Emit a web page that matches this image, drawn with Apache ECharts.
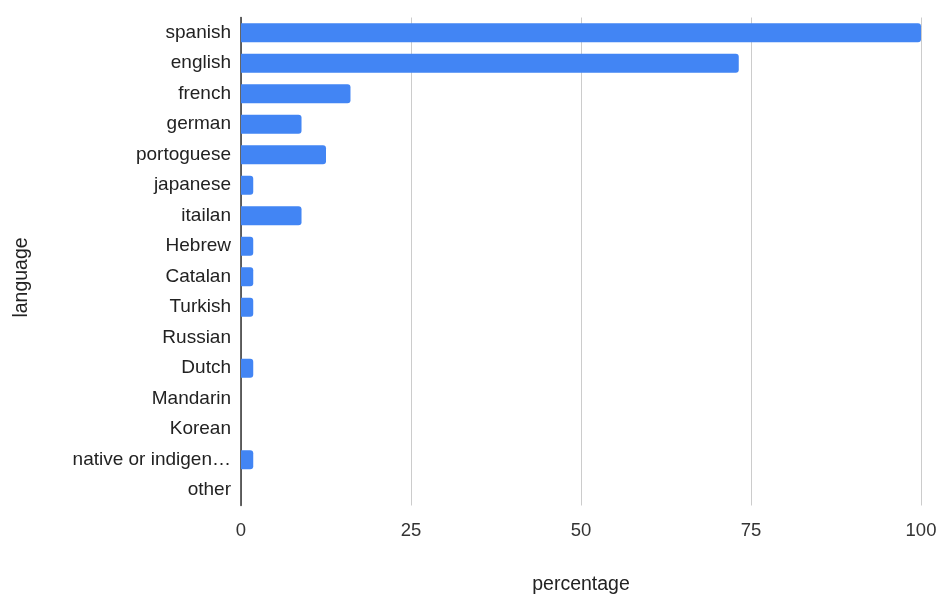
<!DOCTYPE html>
<html>
<head>
<meta charset="utf-8">
<script src="https://cdn.jsdelivr.net/npm/echarts@6/dist/echarts.min.js"></script>
<style>html,body{margin:0;padding:0;background:#fff;}#c{width:939px;height:594px;}</style>
</head>
<body>
<div id="c"></div>
<script>
const categories = ["spanish","english","french","german","portoguese","japanese","itailan","Hebrew","Catalan","Turkish","Russian","Dutch","Mandarin","Korean","native or indigen…","other"];
const percentage = [100, 73.2, 16.1, 8.9, 12.5, 1.8, 8.9, 1.8, 1.8, 1.8, 0, 1.8, 0, 0, 1.8, 0];
const xTicks = [0, 25, 50, 75, 100];

const chart = echarts.init(document.getElementById('c'));
chart.setOption({
  animation: false,
  textStyle: { fontFamily: 'Liberation Sans, Arial' },
  grid: { left: 241, right: 18, top: 17.5, bottom: 88.5, containLabel: false, outerBoundsMode: 'none' },
  xAxis: {
    type: 'value', min: xTicks[0], max: xTicks[xTicks.length-1], interval: 25,
    name: 'percentage', nameLocation: 'middle', nameGap: 69,
    nameTextStyle: { fontSize: 19.5, color: '#222' },
    axisLine: { show: false }, axisTick: { show: false },
    axisLabel: { fontSize: 18.5, color: '#333', margin: 16 },
    splitLine: { lineStyle: { color: '#cccccc', width: 1 } }
  },
  yAxis: {
    type: 'category', data: categories, inverse: true,
    name: 'language', nameLocation: 'middle', nameGap: 209,
    nameTextStyle: { fontSize: 19.5, color: '#222', padding: [0, 32, 0, 0] },
    axisLine: { show: true, lineStyle: { color: '#333', width: 1.5 } },
    axisTick: { show: false },
    axisLabel: { fontSize: 19, color: '#222', margin: 10, padding: [8, 0, 0, 0] }
  },
  series: [{
    type: 'bar', data: percentage, barCategoryGap: '37%',
    itemStyle: { color: '#4285F4', borderRadius: [0, 3, 3, 0] }
  }]
});
</script>
</body>
</html>
